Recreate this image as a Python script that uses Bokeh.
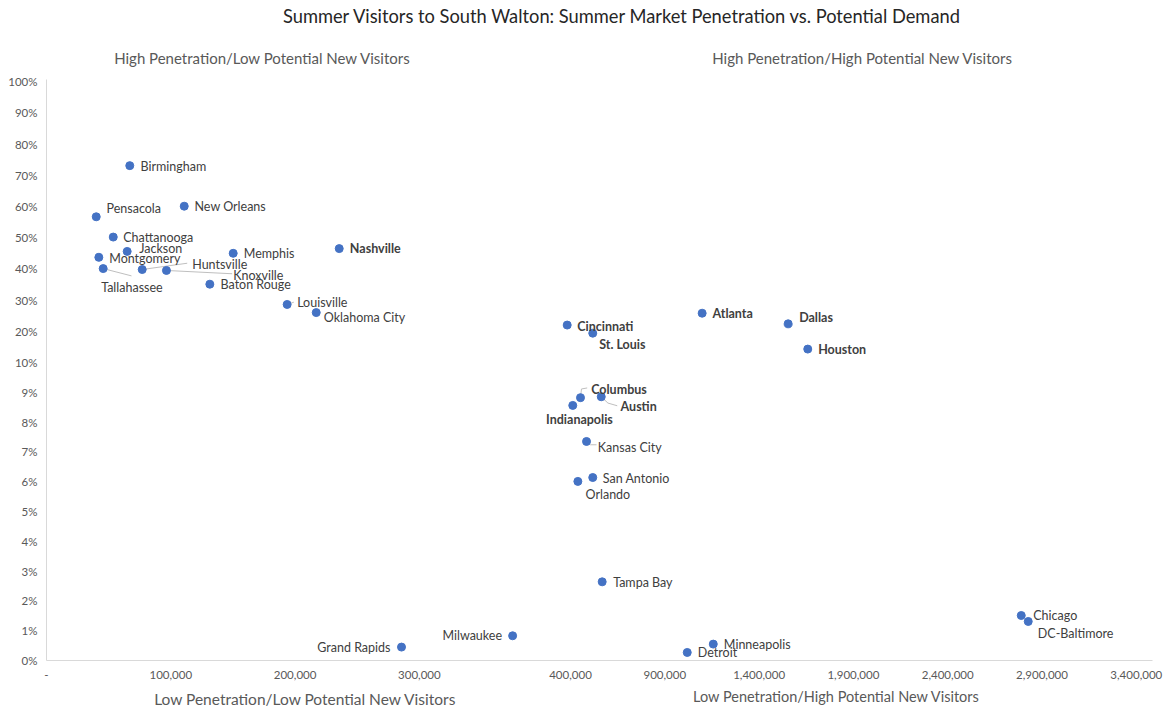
from bokeh.plotting import figure
from bokeh.models import FixedTicker, ColumnDataSource
from bokeh.layouts import column
from bokeh.embed import file_html
from bokeh.resources import INLINE
from bokeh.core.properties import value

# ---------------- data ----------------
cities = ["Birmingham", "Pensacola", "New Orleans", "Chattanooga", "Jackson", "Montgomery",
          "Tallahassee", "Huntsville", "Knoxville", "Memphis", "Baton Rouge", "Nashville",
          "Louisville", "Oklahoma City", "Cincinnati", "St. Louis", "Atlanta", "Dallas",
          "Houston", "Columbus", "Austin", "Indianapolis", "Kansas City", "San Antonio",
          "Orlando", "Tampa Bay", "Milwaukee", "Grand Rapids", "Detroit", "Minneapolis",
          "Chicago", "DC-Baltimore"]
potential_visitors = [67000, 40000, 110800, 53700, 64900, 42100,
                      45600, 77000, 96500, 150200, 131400, 235500,
                      193600, 217000, 382500, 518000, 1098000, 1554000,
                      1658000, 453000, 563000, 412000, 485000, 518000,
                      439000, 568000, 375000, 285600, 1019000, 1157000,
                      2790000, 2827000]
penetration_pct = [73.1, 56.7, 60.1, 50.2, 45.6, 43.7,
                   40.1, 39.8, 39.5, 45.0, 35.1, 46.5,
                   28.6, 26.0, 22.0, 19.4, 25.8, 22.4,
                   14.3, 8.82, 8.85, 8.56, 7.35, 6.14,
                   6.01, 2.64, 0.83, 0.45, 0.27, 0.55,
                   1.51, 1.31]

x_ticks_low = [0, 100000, 200000, 300000]
x_ticks_high = [400000, 900000, 1400000, 1900000, 2400000, 2900000, 3400000]
x_tick_labels = ["-", "100,000", "200,000", "300,000",
                 "400,000", "900,000", "1,400,000", "1,900,000", "2,400,000", "2,900,000", "3,400,000"]
y_ticks_low = [0, 1, 2, 3, 4, 5, 6, 7, 8, 9, 10]
y_ticks_high = [20, 30, 40, 50, 60, 70, 80, 90, 100]

title_text = "Summer Visitors to South Walton: Summer Market Penetration vs. Potential Demand"
top_captions = ["High Penetration/Low Potential New Visitors",
                "High Penetration/High Potential New Visitors"]
bottom_captions = ["Low Penetration/Low Potential New Visitors",
                   "Low Penetration/High Potential New Visitors"]

# ---------------- broken-axis scales ----------------
SPLIT = 380000
def fx(v):
    if v < SPLIT:
        return v / 100000 * 124.3
    return 524.0 + (v - 400000) / 500000 * 94.3

def fy(p):
    if p <= 10:
        return p * 29.8
    return 298.0 + (p - 10) / 10 * 31.2

# ---------------- label styling / placement (screen px: dx right, dy down) ----------------
bold_set = {"Nashville", "Cincinnati", "St. Louis", "Atlanta", "Dallas", "Houston",
            "Columbus", "Austin", "Indianapolis"}
label_place = {
    "Birmingham": (10.7, 1, "left"), "Pensacola": (10.3, -8, "left"),
    "New Orleans": (10.3, 0.3, "left"), "Chattanooga": (10, 0.6, "left"),
    "Jackson": (12, -2.7, "left"), "Montgomery": (10.4, 0.7, "left"),
    "Tallahassee": (-2, 18.7, "left"), "Huntsville": (50, -5, "left"),
    "Knoxville": (66.7, 5, "left"), "Memphis": (10.6, 0, "left"),
    "Baton Rouge": (10.7, 0.6, "left"), "Nashville": (10.6, 0, "left"),
    "Louisville": (10, -1.7, "left"), "Oklahoma City": (7.6, 4.7, "left"),
    "Cincinnati": (10, 1, "left"), "St. Louis": (6.4, 11.3, "left"),
    "Atlanta": (10.3, 0.6, "left"), "Dallas": (11, -6.6, "left"),
    "Houston": (10.4, 0.6, "left"), "Columbus": (10.7, -8.3, "left"),
    "Austin": (19.3, 9.7, "left"), "Indianapolis": (6.7, 14, "center"),
    "Kansas City": (11.3, 5.7, "left"), "San Antonio": (10, 1, "left"),
    "Orlando": (7.7, 13, "left"), "Tampa Bay": (11, 0.4, "left"),
    "Milwaukee": (-10.6, 0, "right"), "Grand Rapids": (-11, 0.6, "right"),
    "Detroit": (10.6, 0, "left"), "Minneapolis": (10.6, 0.3, "left"),
    "Chicago": (12, 0, "left"), "DC-Baltimore": (9.6, 12.3, "left"),
}
leaders = {
    "Tallahassee": [(0, 0), (28.3, 7.3)],
    "Huntsville": [(0, 0), (45, -6.3)],
    "Knoxville": [(0, 0), (65.7, 3.3)],
    "Louisville": [(0, 0), (6.7, -2.3)],
    "Columbus": [(0, 0), (1, -8.7), (6.7, -9.7)],
    "Austin": [(0, 0), (6.7, 6.3), (16, 9)],
    "Kansas City": [(0, 0), (4, 3.3), (10, 3.3)],
}

xs = [fx(v) for v in potential_visitors]
ys = [fy(v) for v in penetration_pct]

src = ColumnDataSource(dict(x=xs, y=ys, city=cities))
lab = ColumnDataSource(dict(
    x=[xs[i] + label_place[c][0] for i, c in enumerate(cities)],
    y=[ys[i] - label_place[c][1] for i, c in enumerate(cities)],
    text=cities,
    align=[label_place[c][2] for c in cities],
    style=["bold" if c in bold_set else "normal" for c in cities],
))
lx, ly = [], []
for i, c in enumerate(cities):
    if c in leaders:
        lx.append([xs[i] + dx for dx, dy in leaders[c]])
        ly.append([ys[i] - dy for dx, dy in leaders[c]])

FONT = "Lato"
W = 1167
BL, BR = 46, 15          # frame borders shared by all stacked figures
FX0, FX1 = BL, W - BR    # frame extent in page pixels

def strip(height):
    f = figure(width=W, height=height, x_range=(FX0, FX1), y_range=(0, height),
               output_backend="svg", toolbar_location=None, x_axis_type=None, y_axis_type=None,
               min_border_left=BL, min_border_right=BR, min_border_top=0, min_border_bottom=0)
    f.outline_line_color = None
    f.grid.visible = False
    return f

# ---- top strip: title + upper quadrant captions ----
top = strip(71)
top.text(x=[622], y=[56], text=[title_text], text_align="center", text_baseline="middle",
         text_font=value(FONT), text_font_size="18.3px", text_color="#262626")
top.text(x=[262, 862], y=[14, 14], text=top_captions, text_align="center", text_baseline="middle",
         text_font=value(FONT), text_font_size="15px", text_color="#595959")

# ---- main chart ----
p = figure(width=W, height=617, x_range=(0, FX1 - FX0), y_range=(0, 581),
           output_backend="svg", toolbar_location=None,
           min_border_left=BL, min_border_right=BR, min_border_top=8, min_border_bottom=28)
p.outline_line_color = None
p.grid.visible = False

p.xaxis.ticker = FixedTicker(ticks=[fx(v) for v in x_ticks_low + x_ticks_high])
p.xaxis.major_label_overrides = {fx(v): t for v, t in zip(x_ticks_low + x_ticks_high, x_tick_labels)}
p.yaxis.ticker = FixedTicker(ticks=[fy(v) for v in y_ticks_low + y_ticks_high])
p.yaxis.major_label_overrides = {fy(v): f"{v}%" for v in y_ticks_low + y_ticks_high}
for ax in (p.xaxis, p.yaxis):
    ax.axis_line_color = "#d9d9d9"
    ax.axis_line_width = 1
    ax.major_tick_line_color = None
    ax.minor_tick_line_color = None
    ax.major_tick_out = 0
    ax.major_tick_in = 0
    ax.major_label_text_font = FONT
    ax.major_label_text_font_size = "11.5px"
    ax.major_label_text_color = "#595959"
p.xaxis.major_label_standoff = 10
p.yaxis.major_label_standoff = 9

p.multi_line(lx, ly, line_color="#bfbfbf", line_width=1)
p.scatter("x", "y", source=src, size=8, fill_color="#4472C4", line_color="#4472C4")
p.text("x", "y", text="text", source=lab, text_align="align", text_baseline="middle",
       text_font=value(FONT), text_font_size="12.5px", text_font_style="style",
       text_color="#404040")

# ---- bottom strip: lower quadrant captions ----
bottom = strip(21)
bottom.text(x=[305, 836], y=[11, 13], text=bottom_captions, text_align="center", text_baseline="middle",
            text_font=value(FONT), text_font_size=["15.5px", "14.5px"], text_color="#595959")

layout = column(top, p, bottom, spacing=0)
open("out.html", "w").write(file_html(layout, INLINE))
